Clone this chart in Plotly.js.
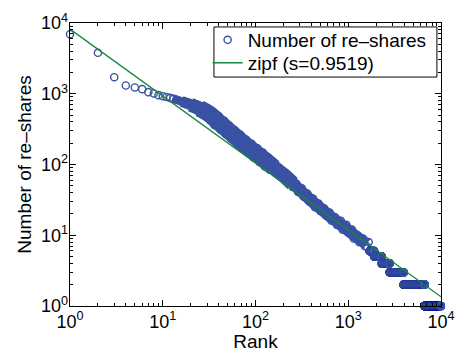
<!DOCTYPE html>
<html>
<head>
<meta charset="utf-8">
<script src="https://cdn.plot.ly/plotly-3.0.1.min.js"></script>
<style>html,body{margin:0;padding:0;background:#fff;}#chart{width:455px;height:352px;}</style>
</head>
<body>
<div id="chart"></div>
<script>
// ---- data ----
// individually visible head of the ranked list
var headRank = [1,2,3,4,5,6,7,8,9,10,11,12,13,14,15,16,17,18,19,20,21,22,23,24,25];
var headShares = [6950,3790,1714,1309,1227,1161,1054,1009,955,922,900,875,849,822,795,773,752,733,714,700,681,664,647,632,618];

// dense middle band (points sampled across the band)
var bandRank = [26,28,29,30,32,33,35,36,38,40,42,44,46,48,50,52,55,58,60,63,66,69,72,76,79,83,87,91,95,100,
  105,110,115,120,126,132,138,145,151,158,166,174,182,191,200,209,219,229,240,251,263,275,288,302,316,331,347,363,380,398,
  417,437,457,479,501,525,550,575,603,631,661,692,724,759,794,832,871,912,955,1000,1047,1096,1148,1202,1259,1318,1380,1445,1514,1585,1660];
var bandShares = [667,510,552,597,442,488,551,362,419,484,311,360,416,267,309,356,229,264,304,195,
  226,262,169,195,226,146,169,196,126,146,169,109,126,147,94,109,124,85,95,104,
  76,82,87,66,71,75,57,60,64,48,51,54,41,44,46,35,37,39,30,31,
  33,25,27,28,22,23,24,19,20,21,16,17,18,14,15,16,12,13,14,11,
  11,12,9,10,10,8,9,9,7,7,8];

// centre line of the solid part of the band (where the markers merge)
var coreRank = [13,16,20,25,32,40,50,63,79,100,126,158,200,251,316,398,501,631,794,1000,1259,1585];
var coreShares = [861,776,700,617,513,398,309,237,186,146,115,90,71,54,41,31,24,18.6,14.8,11.7,9.3,7.5];

// tail: runs of equal share counts (value, first rank, last rank)
var tailShares = [6,5,4,3,2,1];
var tailFirstRank = [1700,1900,2300,2800,3950,6650];
var tailLastRank = [1899,2299,2799,3949,6649,9950];

// fitted zipf line end points
var zipfRank = [1,10000];
var zipfShares = [8200,1.35];

// tick labels
var tickVals = [1,10,100,1000,10000];
var tickText = ['10<sup>0</sup>','10<sup>1</sup>','10<sup>2</sup>','10<sup>3</sup>','10<sup>4</sup>'];
var minorVals = [2,3,4,5,6,7,8,9,20,30,40,50,60,70,80,90,200,300,400,500,600,700,800,900,2000,3000,4000,5000,6000,7000,8000,9000];

// ---- build the series ----
var xs = headRank.concat(bandRank);
var ys = headShares.concat(bandShares);
for (var k = 0; k < tailShares.length; k++) {
  for (var r = tailFirstRank[k]; r <= tailLastRank[k]; r++) { xs.push(r); ys.push(tailShares[k]); }
}

var FONT = 'Liberation Sans, Arial, Helvetica, sans-serif';
var blue = '#3a52a4';
var green = '#15883b';

function core(i0, i1, w) {
  return {x: coreRank.slice(i0, i1 + 1), y: coreShares.slice(i0, i1 + 1), type: 'scatter', mode: 'lines',
          showlegend: false, hoverinfo: 'skip', cliponaxis: false,
          line: {color: blue, width: w, shape: 'spline', smoothing: 0.6}};
}

var traces = [
  core(0, 2, 8),
  core(1, 3, 11),
  core(2, 4, 14),
  core(3, 11, 17),
  core(10, 13, 15),
  core(12, 21, 12),
  {x: xs, y: ys, type: 'scatter', mode: 'markers', name: 'Number of re\u2013shares', cliponaxis: false,
   legend: 'legend',
   marker: {symbol: 'circle-open', size: 7.2, color: blue, line: {color: blue, width: 1.4}}},
  {x: zipfRank, y: zipfShares, type: 'scatter', mode: 'lines', name: 'zipf (s=0.9519)', cliponaxis: true,
   legend: 'legend2',
   line: {color: green, width: 1.3}}
];

function axis(title, standoff) {
  return {
    type: 'log', range: [0, 4], tickmode: 'array', tickvals: tickVals, ticktext: tickText,
    ticks: 'inside', ticklen: 6, tickwidth: 1, tickcolor: '#000',
    minor: {tickmode: 'array', tickvals: minorVals, ticks: 'inside', ticklen: 3, tickwidth: 1, tickcolor: '#000', showgrid: false},
    showline: true, linecolor: '#000', linewidth: 1.3, mirror: 'allticks',
    showgrid: false, zeroline: false,
    tickfont: {family: FONT, size: 18, color: '#000'},
    title: {text: title, font: {family: FONT, size: 19, color: '#000'}, standoff: standoff}
  };
}

var xa = axis('Rank', 6);
xa.ticklabelstandoff = -1;
var ya = axis('Number of re\u2013shares', 4);
ya.ticklabelstandoff = -3;

function legendBox(y) {
  return {x: 0.371, y: y, xanchor: 'left', yanchor: 'middle', bgcolor: 'rgba(0,0,0,0)',
          borderwidth: 0, font: {family: FONT, size: 19, color: '#000'}, itemwidth: 30};
}

var layout = {
  width: 455, height: 352,
  margin: {l: 70, r: 14, t: 23, b: 46},
  paper_bgcolor: '#fff', plot_bgcolor: '#fff',
  font: {family: FONT, color: '#000'},
  showlegend: true,
  legend: legendBox(0.940),
  legend2: legendBox(0.859),
  shapes: [{type: 'rect', xref: 'paper', yref: 'paper', x0: 0.388, x1: 0.989, y0: 0.809, y1: 0.986,
            line: {color: '#000', width: 1}, fillcolor: '#fff', layer: 'above'}],
  xaxis: xa,
  yaxis: ya
};

Plotly.newPlot('chart', traces, layout, {staticPlot: true, displayModeBar: false});
</script>
</body>
</html>
